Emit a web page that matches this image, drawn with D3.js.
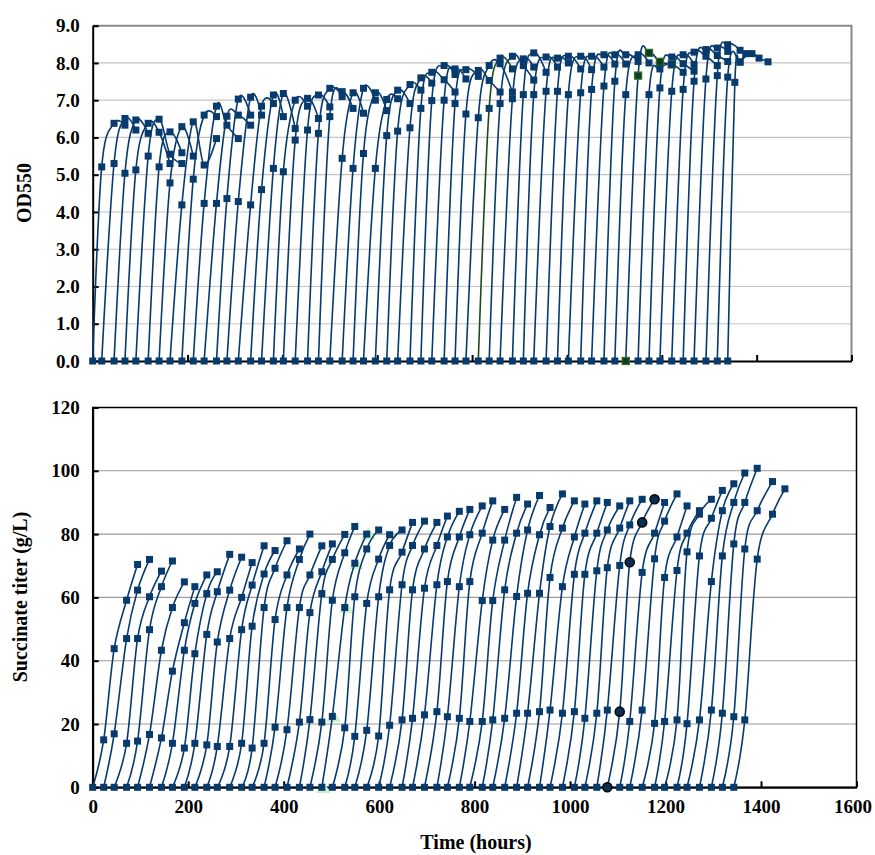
<!DOCTYPE html>
<html>
<head>
<meta charset="utf-8">
<script src="https://cdn.jsdelivr.net/npm/d3@7/dist/d3.min.js"></script>
<style>
  body { margin: 0; background: #fff; }
  text { font-family: "Liberation Serif", "Times New Roman", serif; font-weight: bold; fill: #000; }
</style>
</head>
<body>
<div id="chart"></div>
<script>
// sampling times (hours) for the OD panel
const odHours = [0, 19, 45, 68, 91, 117, 140, 163, 188, 212, 235, 261, 283, 307, 333, 356, 381, 402, 427, 453,
  476, 500, 526, 549, 571, 596, 620, 643, 669, 692, 715, 741, 764, 787, 813, 836, 859, 885, 908, 930,
  956, 980, 1003, 1029, 1052, 1078, 1101, 1124, 1150, 1173, 1196, 1221, 1245, 1268, 1293, 1317, 1339,
  1354, 1365, 1377, 1390, 1405, 1424];

// sampling times (hours) for the succinate panel
const titerHours = [0, 23, 45, 71, 94, 119, 144, 167, 192, 214, 239, 261, 287, 312, 334, 359, 382, 407, 433, 455,
  480, 502, 528, 549, 574, 599, 622, 648, 670, 695, 721, 743, 768, 790, 816, 838, 863, 888, 911, 936,
  958, 984, 1009, 1031, 1056, 1078, 1104, 1125, 1151, 1177, 1198, 1224, 1245, 1271, 1296, 1319, 1343,
  1366, 1392, 1424, 1450];

// OD550 per batch; batch i starts at odHours[i] (null = no sample)
const odBatches = [
  [0, 5.21, 6.38, 6.33], [0, 5.3, 6.51, 6.2], [0, 5.04, 6.47, 6.11], [0, 5.13, 6.38, 6.14, 5.3],
  [0, 5.5, 6.49, 5.55, 5.3], [0, 5.21, 6.15, 5.59], [0, 4.78, 6.29, 5.5], [0, 4.19, 6.42, 5.26, 5.97],
  [0, 4.88, 6.6, 6.56], [0, 4.23, 6.84, 6.33, 5.97], [0, 4.23, 6.57, 6.6, 6.33], [0, 4.36, 7.03, 6.6],
  [0, 4.28, 7.08, 6.6], [0, 4.19, 6.84, 6.91], [0, 4.6, 7.14, 6.56], [0, 5.17, 7.18, 6.24],
  [0, 5.08, 7.0, 6.84], [0, 5.93, 7.05, 6.51], [0, 6.2, 7.14, 6.82], [0, 6.11, 7.32, 7.1],
  [0, 6.56, 7.23, 6.78], [0, 5.44, 7.2, 6.65], [0, 5.17, 7.32, 7.0], [0, 5.57, 7.2, 6.72],
  [0, 5.17, 7.02, 7.04], [0, 6.05, 7.27, 6.91], [0, 6.17, 7.42, 7.27], [0, 6.26, 7.6, 7.46],
  [0, 6.78, 7.75, 7.55, 7.22], [0, 6.99, 7.93, 7.69], [0, 7.0, 7.84, 7.57], [0, 6.91, 7.82, 7.64],
  [0, 6.63, 7.8, 7.53, 7.22], [0, 6.53, 7.93, 7.98, 7.22], [0, 6.78, 8.13, 7.84], [0, 6.91, 8.18, 7.93, 7.54],
  [0, 7.04, 8.11, 7.89], [0, 7.15, 8.27, 7.75], [0, 7.15, 8.16, 7.89], [0, 7.24, 8.13, 8.0],
  [0, 7.24, 8.18, 7.84], [0, 7.15, 8.18, 7.82], [0, 7.2, 8.18, 7.89], [0, 7.29, 8.22, 7.97],
  [0, 7.38, 8.22, 7.97], [0, 7.51, 8.22, 8.04], [0, 7.15, 8.22, 8.0], [0, 7.66, 8.27, 8.03, 7.96],
  [0, 7.15, 7.84, 7.96, 7.75], [0, 7.33, 8.16, 7.98, 7.78], [0, 7.24, 8.22, 7.96], [0, 7.29, 8.29, 8.18, 7.93],
  [0, 7.51, 8.36, 8.2, 8.04], [0, 7.57, 8.4, 8.31], [0, 7.66, 8.49, null, 8.34],
  [0, 7.62, null, 8.03, 8.25], [0, 7.48, 8.02, null, 8.25, 8.13, 8.03]
];

// succinate titer (g/L) per batch; batch i starts at titerHours[i]
const titerBatches = [
  [0, 15.0, 43.8, 59.1, 70.4], [0, 16.9, 47.0, 62.3, 72.0], [0, 13.9, 47.0, 60.2, 68.3], [0, 14.6, 49.8, 63.4, 71.5],
  [0, 16.7, 43.3, 56.8, 64.9], [0, 15.6, 36.7, 52.0, 63.4], [0, 13.9, 43.3, 58.1, 67.1], [0, 12.4, 42.2, 61.2, 68.1],
  [0, 13.9, 48.3, 61.8, 73.6], [0, 13.4, 45.9, 62.3, 72.7], [0, 12.9, 47.0, 60.0, 71.0], [0, 12.9, 49.8, 63.9, 76.3],
  [0, 13.9, 50.9, 67.4, 74.8], [0, 12.4, 56.8, 69.2, 77.9], [0, 13.9, 53.0, 67.1, 75.3], [0, 19.0, 56.8, 72.0, 80.0],
  [0, 18.2, 56.8, 67.1, 76.3], [0, 20.6, 55.2, 68.1, 76.9], [0, 21.4, 61.2, 72.0, 79.9], [0, 20.6, 59.1, 74.1, 82.4],
  [0, 22.4, 56.8, 70.8, 80.0], [0, 18.8, 60.2, 75.3, 81.3], [0, 16.1, 58.1, 72.1, 79.8], [0, 18.0, 60.2, 76.4, 81.3],
  [0, 16.2, 62.4, 74.3, 83.7], [0, 19.6, 64.0, 76.4, 84.1], [0, 21.3, 62.4, 75.3, 83.7], [0, 21.8, 62.9, 76.4, 85.7],
  [0, 22.9, 64.0, 79.1, 87.2], [0, 23.9, 65.0, 79.1, 87.8], [0, 22.3, 63.4, 79.8, 88.9], [0, 21.8, 65.0, 80.3, 90.5],
  [0, 20.8, 59.0, 78.1, 87.8], [0, 20.8, 59.0, 78.1, 91.6], [0, 21.3, 62.4, 80.3, 89.5], [0, 21.8, 60.3, 81.3, 92.2],
  [0, 23.4, 61.3, 79.8, 88.4], [0, 23.4, 61.3, 82.4, 92.7], [0, 23.9, 66.3, 81.9, 90.5], [0, 24.4, 63.4, 79.1, 89.5],
  [0, 23.4, 67.3, 80.3, 90.5], [0, 23.9, 67.3, 80.3, 90.0], [0, 21.8, 68.4, 81.3, 88.9], [0, 23.4, 69.4, 81.9, 90.5],
  [0, 24.4, 70.1, 82.9, 91.0], [0, 23.9, 71.1, 83.7, 91.0], [0, 20.8, 67.9, 80.3, 90.0], [0, 24.4, 72.2, 84.1, 92.7],
  [0, 20.2, 66.3, 79.1, 88.9], [0, 20.8, 68.5, 80.3, 87.4], [0, 21.3, 74.4, 86.3, 91.0], [0, 20.1, 73.1, 85.0, 93.8],
  [0, 21.3, 65.0, 87.4, 95.9], [0, 24.4, 73.1, 90.0, 99.3], [0, 23.4, 76.9, 90.0, 100.8], [0, 22.3, 75.3, 87.4, 96.6],
  [0, 21.3, 72.1, 86.3, 94.3]
];

// batches drawn with a different style in the original
const odGreenLineBatch = 34;
const odGreenMarkerBatch = 47;
const titerCircleBatch = 45;
const titerTriangleBatch = 20;

const odTicks = [0, 1, 2, 3, 4, 5, 6, 7, 8, 9];
const titerTicks = [0, 20, 40, 60, 80, 100, 120];
const timeTicks = [0, 200, 400, 600, 800, 1000, 1200, 1400, 1600];

const navy = "#073a6d";

const svg = d3.select("#chart").append("svg")
  .attr("width", 875).attr("height", 855);

const line = d3.line().curve(d3.curveCardinal.tension(0));

function batchPoints(values, start, hours) {
  return values.map((v, j) => v == null ? null : [hours[start + j], v]).filter(p => p);
}

// ---------- top panel: OD550 ----------
const xTop = d3.scaleLinear().domain([0, 1600]).range([92.7, 851.5]);
const yTop = d3.scaleLinear().domain([0, 9]).range([361, 25.7]);

const topPanel = svg.append("g");

topPanel.selectAll(".grid").data(odTicks.slice(1, -1)).enter().append("line")
  .attr("x1", xTop(0)).attr("x2", xTop(1600))
  .attr("y1", d => yTop(d)).attr("y2", d => yTop(d))
  .attr("stroke", "#c4c4c4").attr("stroke-width", 1.2);

// gray top and right border
topPanel.append("path")
  .attr("d", `M${xTop(0)},${yTop(9)}H${xTop(1600)}V${yTop(0)}`)
  .attr("fill", "none").attr("stroke", "#8a8a8a").attr("stroke-width", 2);

topPanel.append("g").attr("transform", `translate(0,${yTop(0)})`)
  .call(d3.axisBottom(xTop).tickValues(timeTicks).tickSize(-6).tickSizeOuter(0).tickFormat(""))
  .call(g => g.selectAll("path, line").attr("stroke", "#000").attr("stroke-width", 2));

topPanel.append("g").attr("transform", `translate(${xTop(0)},0)`)
  .call(d3.axisLeft(yTop).tickValues(odTicks).tickSize(-6).tickSizeOuter(0).tickPadding(13)
    .tickFormat(d3.format(".1f")))
  .call(g => g.selectAll("path, line").attr("stroke", "#000").attr("stroke-width", 2))
  .call(g => g.selectAll("text").style("font-size", "19px").style("font-family", "Liberation Serif").style("font-weight", "bold"));

odBatches.forEach((vals, i) => {
  topPanel.append("path")
    .attr("d", line(batchPoints(vals, i, odHours).map(p => [xTop(p[0]), yTop(p[1])])))
    .attr("fill", "none")
    .attr("stroke", i === odGreenLineBatch ? "#1d4a17" : navy)
    .attr("stroke-width", 1.6);
});
odBatches.forEach((vals, i) => {
  const green = i === odGreenMarkerBatch;
  topPanel.selectAll(null).data(batchPoints(vals, i, odHours)).enter().append("rect")
    .attr("x", d => xTop(d[0]) - 3.5).attr("y", d => yTop(d[1]) - 3.5)
    .attr("width", 7).attr("height", 7)
    .attr("fill", green ? "#0f3a24" : navy)
    .attr("stroke", green ? "#2f6f22" : "none").attr("stroke-width", 1.3);
});

topPanel.append("text")
  .attr("transform", "translate(31,193) rotate(-90)")
  .attr("text-anchor", "middle").style("font-size", "20px")
  .text("OD550");

// ---------- bottom panel: succinate titer ----------
const xBot = d3.scaleLinear().domain([0, 1600]).range([92.7, 856.5]);
const yBot = d3.scaleLinear().domain([0, 120]).range([787.3, 407.5]);

const botPanel = svg.append("g");

botPanel.selectAll(".grid").data(titerTicks.slice(1, -1)).enter().append("line")
  .attr("x1", xBot(0)).attr("x2", xBot(1600))
  .attr("y1", d => yBot(d)).attr("y2", d => yBot(d))
  .attr("stroke", "#9a9a9a").attr("stroke-width", 1.1);

botPanel.append("rect")
  .attr("x", xBot(0)).attr("y", yBot(120))
  .attr("width", xBot(1600) - xBot(0)).attr("height", yBot(0) - yBot(120))
  .attr("fill", "none").attr("stroke", "#000").attr("stroke-width", 1.5);

botPanel.append("g").attr("transform", `translate(0,${yBot(0)})`)
  .call(d3.axisBottom(xBot).tickValues(timeTicks).tickSize(-6).tickSizeOuter(0).tickPadding(12)
    .tickFormat(d3.format("d")))
  .call(g => g.selectAll("path, line").attr("stroke", "#000").attr("stroke-width", 2))
  .call(g => g.selectAll("text").style("font-size", "19px").style("font-family", "Liberation Serif").style("font-weight", "bold"))
  .call(g => g.selectAll("text").filter(d => d === 1600).attr("dx", "-4"));

botPanel.append("g").attr("transform", `translate(${xBot(0)},0)`)
  .call(d3.axisLeft(yBot).tickValues(titerTicks).tickSize(-6).tickSizeOuter(0).tickPadding(13)
    .tickFormat(d3.format("d")))
  .call(g => g.selectAll("path, line").attr("stroke", "#000").attr("stroke-width", 2))
  .call(g => g.selectAll("text").style("font-size", "19px").style("font-family", "Liberation Serif").style("font-weight", "bold"));

// light green triangles sit underneath one of the batches
botPanel.selectAll(null)
  .data(batchPoints(titerBatches[titerTriangleBatch], titerTriangleBatch, titerHours))
  .enter().append("path")
  .attr("transform", d => `translate(${xBot(d[0]) + 1.5},${yBot(d[1]) + 1.5})`)
  .attr("d", d3.symbol(d3.symbolTriangle, 90))
  .attr("fill", "#c9f2c6");

titerBatches.forEach((vals, i) => {
  botPanel.append("path")
    .attr("d", line(batchPoints(vals, i, titerHours).map(p => [xBot(p[0]), yBot(p[1])])))
    .attr("fill", "none").attr("stroke", navy).attr("stroke-width", 1.6);
});
titerBatches.forEach((vals, i) => {
  const pts = batchPoints(vals, i, titerHours);
  if (i === titerCircleBatch) {
    botPanel.selectAll(null).data(pts).enter().append("circle")
      .attr("cx", d => xBot(d[0])).attr("cy", d => yBot(d[1])).attr("r", 4.6)
      .attr("fill", "#0a2d52").attr("stroke", "#000").attr("stroke-width", 1.4);
  } else {
    botPanel.selectAll(null).data(pts).enter().append("rect")
      .attr("x", d => xBot(d[0]) - 3.5).attr("y", d => yBot(d[1]) - 3.5)
      .attr("width", 7).attr("height", 7).attr("fill", navy);
  }
});

botPanel.append("text")
  .attr("transform", "translate(27,597) rotate(-90)")
  .attr("text-anchor", "middle").style("font-size", "20px")
  .text("Succinate titer (g/L)");

svg.append("text")
  .attr("x", 476).attr("y", 849)
  .attr("text-anchor", "middle").style("font-size", "20px")
  .text("Time (hours)");
</script>
</body>
</html>
